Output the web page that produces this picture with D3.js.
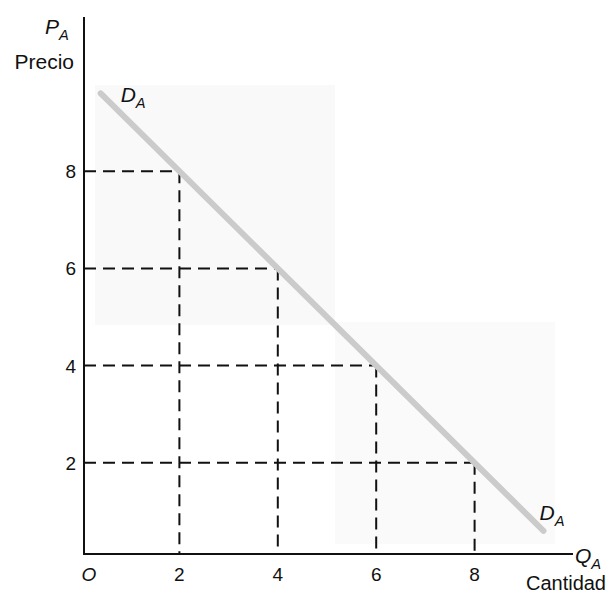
<!DOCTYPE html>
<html>
<head>
<meta charset="utf-8">
<script src="https://cdn.jsdelivr.net/npm/d3@7"></script>
<style>
  html, body { margin: 0; padding: 0; background: #fff; }
  svg { display: block; }
  text { font-family: "Liberation Sans", Arial, Helvetica, sans-serif; fill: #111; }
</style>
</head>
<body>
<script>
// Demand curve D_A: P = 10 - Q, drawn between its two visible ends
const demandQ = [0.4, 9.4];
const demandP = [9.6, 0.6];

// Highlighted points on the demand curve (quantity, price)
const pointQ = [2, 4, 6, 8];
const pointP = [8, 6, 4, 2];

// Axis tick labels
const xTicks = [2, 4, 6, 8];
const yTicks = [2, 4, 6, 8];

const W = 610, H = 593;
const svg = d3.select("body").append("svg").attr("width", W).attr("height", H);

const x = d3.scaleLinear().domain([0, 10]).range([81, 573]);
const y = d3.scaleLinear().domain([0, 10]).range([560, 74]);

const axisX = 84, axisY = 554;

// faint tinted panels behind the curve
svg.append("rect").attr("x", 95).attr("y", 85).attr("width", 240).attr("height", 240).attr("fill", "#f9f9f9");
svg.append("rect").attr("x", 335).attr("y", 322).attr("width", 220).attr("height", 222).attr("fill", "#fafafa");

// dashed guides from each point to the axes
const dash = "12,7";
svg.selectAll("line.h").data(pointQ).enter().append("line")
  .attr("class", "h")
  .attr("x1", axisX).attr("x2", (d) => x(d))
  .attr("y1", (d, i) => y(pointP[i])).attr("y2", (d, i) => y(pointP[i]))
  .attr("stroke", "#111").attr("stroke-width", 2).attr("stroke-dasharray", dash);

svg.selectAll("line.v").data(pointQ).enter().append("line")
  .attr("class", "v")
  .attr("x1", (d) => x(d)).attr("x2", (d) => x(d))
  .attr("y1", (d, i) => y(pointP[i])).attr("y2", axisY)
  .attr("stroke", "#111").attr("stroke-width", 2).attr("stroke-dasharray", dash);

// demand line
const line = d3.line().x((d) => x(d[0])).y((d) => y(d[1]));
svg.append("path")
  .datum(demandQ.map((q, i) => [q, demandP[i]]))
  .attr("d", line)
  .attr("fill", "none")
  .attr("stroke", "#cbcbcb")
  .attr("stroke-width", 6)
  .attr("stroke-linecap", "round");

// axes
svg.append("line").attr("x1", axisX).attr("x2", axisX).attr("y1", 17).attr("y2", axisY + 1)
  .attr("stroke", "#111").attr("stroke-width", 2);
svg.append("line").attr("x1", axisX - 1).attr("x2", 573).attr("y1", axisY).attr("y2", axisY)
  .attr("stroke", "#111").attr("stroke-width", 2);

// tick labels
svg.selectAll("text.xt").data(xTicks).enter().append("text")
  .attr("class", "xt")
  .attr("x", (d) => x(d)).attr("y", 581)
  .attr("text-anchor", "middle").attr("font-size", 19)
  .text((d) => d);

svg.selectAll("text.yt").data(yTicks).enter().append("text")
  .attr("class", "yt")
  .attr("x", 76).attr("y", (d) => y(d) + 7)
  .attr("text-anchor", "end").attr("font-size", 19)
  .text((d) => d);

svg.append("text").attr("x", 89).attr("y", 581).attr("text-anchor", "middle")
  .attr("font-size", 19).attr("font-style", "italic").text("O");

// axis titles
function subLabel(tx, ty, main, sub, size, anchor) {
  const t = svg.append("text").attr("x", tx).attr("y", ty)
    .attr("font-size", size).attr("font-style", "italic")
    .attr("text-anchor", anchor || "start");
  t.append("tspan").text(main);
  t.append("tspan").attr("dy", 6).attr("font-size", size * 0.7).text(sub);
  return t;
}

subLabel(45, 34, "P", "A", 21);
svg.append("text").attr("x", 74).attr("y", 69).attr("text-anchor", "end")
  .attr("font-size", 21).text("Precio");

subLabel(575, 563, "Q", "A", 21);
svg.append("text").attr("x", 606).attr("y", 590).attr("text-anchor", "end")
  .attr("font-size", 20).text("Cantidad");

// curve labels
subLabel(x(demandQ[0]) + 20, y(demandP[0]) + 9, "D", "A", 21);
subLabel(x(demandQ[1]) - 4, y(demandP[1]) - 11, "D", "A", 21);
</script>
</body>
</html>
